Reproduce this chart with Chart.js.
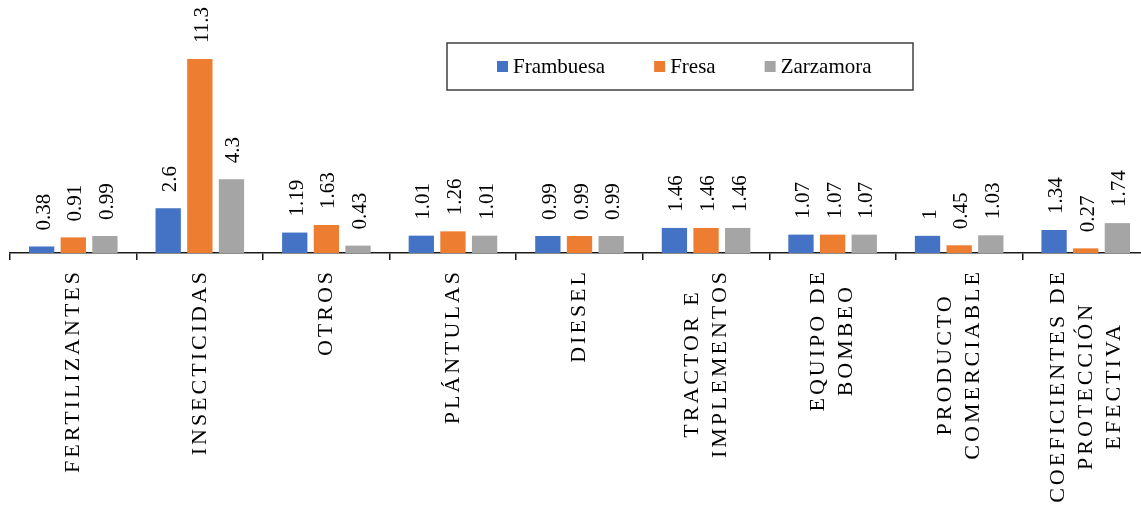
<!DOCTYPE html>
<html>
<head>
<meta charset="utf-8">
<script src="https://cdn.jsdelivr.net/npm/chart.js@4"></script>
<style>
  html, body { margin:0; padding:0; background:#fff; overflow:hidden; }
  #wrap { width:1149px; height:514px; }
</style>
</head>
<body>
<div id="wrap"><canvas id="chart"></canvas></div>
<script>
const categories = [
  ['FERTILIZANTES'],
  ['INSECTICIDAS'],
  ['OTROS'],
  ['PLÁNTULAS'],
  ['DIESEL'],
  ['TRACTOR E', 'IMPLEMENTOS'],
  ['EQUIPO DE', 'BOMBEO'],
  ['PRODUCTO', 'COMERCIABLE'],
  ['COEFICIENTES DE', 'PROTECCIÓN', 'EFECTIVA']
];
const seriesNames = ['Frambuesa', 'Fresa', 'Zarzamora'];
const frambuesa = [0.38, 2.6, 1.19, 1.01, 0.99, 1.46, 1.07, 1, 1.34];
const fresa = [0.91, 11.3, 1.63, 1.26, 0.99, 1.46, 1.07, 0.45, 0.27];
const zarzamora = [0.99, 4.3, 0.43, 1.01, 0.99, 1.46, 1.07, 1.03, 1.74];
const colors = ['#4472C4', '#ED7D31', '#A5A5A5'];

const FONT = '"Liberation Serif", "Times New Roman", serif';

// etiquetas del eje x, verticales y centradas entre si
const xLabels = {
  id: 'xLabels',
  afterDraw(chart){
    const ctx = chart.ctx;
    const xs = chart.scales.x;
    const top = xs.top + 19;
    ctx.save();
    ctx.font = '22px ' + FONT;
    ctx.letterSpacing = '3px';
    ctx.fillStyle = '#000';
    ctx.textAlign = 'center';
    ctx.textBaseline = 'middle';
    categories.forEach((lines, i) => {
      const x = xs.getPixelForValue(i);
      const w = Math.max(...lines.map(l => ctx.measureText(l).width));
      ctx.save();
      ctx.translate(x, top);
      ctx.rotate(-Math.PI/2);
      lines.forEach((l, j) => {
        ctx.fillText(l, -w/2 + 3, (j - (lines.length-1)/2) * 28);
      });
      ctx.restore();
    });
    ctx.restore();
  }
};

// valores encima de cada barra, girados
const valueLabels = {
  id: 'valueLabels',
  afterDatasetsDraw(chart){
    const ctx = chart.ctx;
    ctx.save();
    ctx.font = '21px ' + FONT;
    ctx.fillStyle = '#000';
    ctx.textAlign = 'left';
    ctx.textBaseline = 'alphabetic';
    chart.data.datasets.forEach((ds, di) => {
      chart.getDatasetMeta(di).data.forEach((bar, i) => {
        ctx.save();
        ctx.translate(bar.x, bar.y - 16);
        ctx.rotate(-Math.PI/2);
        ctx.fillText(String(ds.data[i]), 0, 8);
        ctx.restore();
      });
    });
    ctx.restore();
  }
};

// leyenda con recuadro
const boxLegend = {
  id: 'boxLegend',
  afterDraw(chart){
    const ctx = chart.ctx;
    ctx.save();
    ctx.strokeStyle = '#404040';
    ctx.lineWidth = 1.5;
    ctx.strokeRect(447, 43, 466, 47);
    ctx.font = '21px ' + FONT;
    ctx.textBaseline = 'alphabetic';
    let x = 497;
    chart.data.datasets.forEach(ds => {
      ctx.fillStyle = ds.backgroundColor;
      ctx.fillRect(x, 61, 11, 11);
      ctx.fillStyle = '#000';
      ctx.fillText(ds.label, x + 16, 72.5);
      x += 16 + ctx.measureText(ds.label).width + 49;
    });
    ctx.restore();
  }
};

new Chart(document.getElementById('chart'), {
  type: 'bar',
  data: {
    labels: categories,
    datasets: [frambuesa, fresa, zarzamora].map((d, i) => ({
      label: seriesNames[i],
      data: d,
      backgroundColor: colors[i],
      borderWidth: 0,
      categoryPercentage: 0.75,
      barPercentage: 0.8
    }))
  },
  options: {
    responsive: true,
    maintainAspectRatio: false,
    animation: false,
    layout: { padding: { top: 20, left: 10, right: 0, bottom: 0 } },
    plugins: { legend: { display: false }, tooltip: { enabled: false } },
    scales: {
      x: {
        afterFit(scale){ scale.height = 261; },
        ticks: { display: false },
        border: { display: true, color: '#1a1a1a', width: 1.5 },
        grid: { offset: true, drawOnChartArea: false, drawTicks: true, tickLength: 7, color: '#1a1a1a', lineWidth: 1.5 }
      },
      y: { display: false, min: 0, max: 13.57 }
    }
  },
  plugins: [xLabels, valueLabels, boxLegend]
});
</script>
</body>
</html>
